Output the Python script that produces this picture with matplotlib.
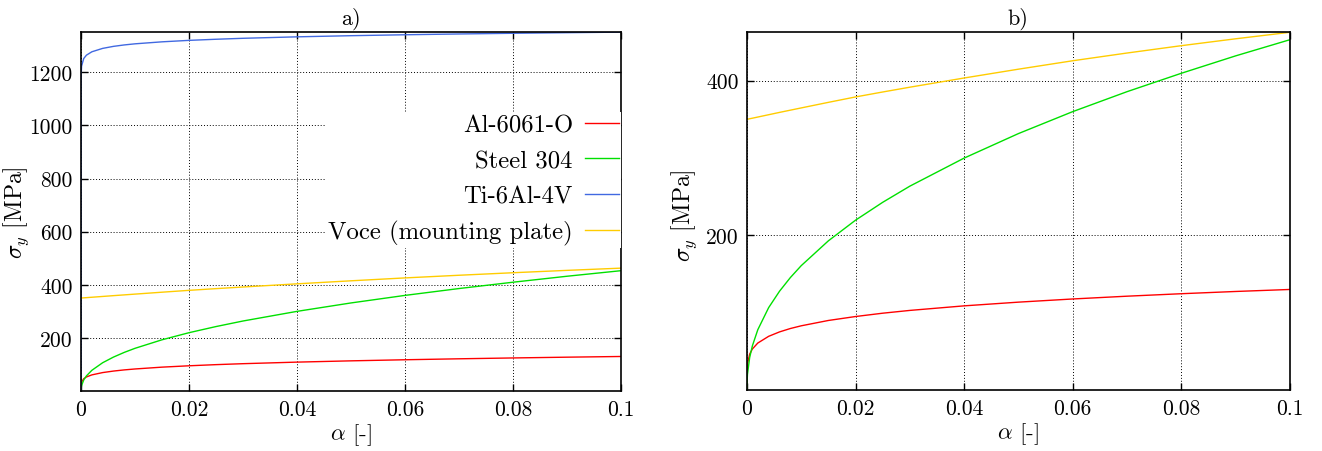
import numpy as np
import matplotlib
matplotlib.use("Agg")
import matplotlib.pyplot as plt

plt.rcParams['font.family'] = 'cmr10'
plt.rcParams['mathtext.fontset'] = 'cm'
plt.rcParams['axes.unicode_minus'] = False
plt.rcParams['axes.formatter.use_mathtext'] = True

# plastic strain alpha and yield stress (MPa)
alpha = [0, 1e-6, 1e-5, 1e-4, 0.0005, 0.001, 0.002, 0.004, 0.006, 0.008, 0.01,
         0.015, 0.02, 0.025, 0.03, 0.04, 0.05, 0.06, 0.07, 0.08, 0.09, 0.1]
al6061 = [0, 13.8, 21.6, 33.8, 46.3, 53.0, 60.7, 69.4, 75.1, 79.5, 83.0,
          89.9, 95.0, 99.3, 102.9, 108.8, 113.6, 117.7, 121.3, 124.5, 127.4, 130.0]
steel304 = [0, 2.5, 7.2, 20.2, 41.8, 57.0, 77.9, 106.5, 127.7, 145.4, 160.8,
            192.9, 219.6, 242.7, 263.6, 299.9, 331.6, 360.0, 385.8, 409.6, 432.1, 453.0]
ti6al4v = [0, 1144.6, 1183.0, 1223.0, 1251.7, 1264.3, 1277.0, 1289.8, 1297.4, 1302.8, 1307.0,
           1314.5, 1320.0, 1324.2, 1327.8, 1333.3, 1337.6, 1341.1, 1344.1, 1346.7, 1348.9, 1351.0]
voce = [350.0, 350.0, 350.0, 350.15, 350.8, 351.5, 353.0, 356.0, 359.0, 361.9, 364.8,
        372.0, 379.0, 385.4, 391.6, 403.5, 414.9, 425.8, 435.8, 445.3, 454.2, 462.6]

labels = ['Al-6061-O', 'Steel 304', 'Ti-6Al-4V', 'Voce (mounting plate)']
colors = ['#ff0000', '#00e000', '#4169e1', '#ffcc00']

xticks = [0, 0.02, 0.04, 0.06, 0.08, 0.1]
xticklabels = ['0', '0.02', '0.04', '0.06', '0.08', '0.1']
yticks_a = [200, 400, 600, 800, 1000, 1200]
yticks_b = [200, 400]

fig = plt.figure(figsize=(13.22, 4.52), dpi=100)
axA = fig.add_axes([0.0613, 0.1327, 0.4085, 0.794])
axB = fig.add_axes([0.565, 0.1350, 0.4107, 0.792])


def style(ax, yticks, ymax, title):
    ax.set_xlim(0, 0.1)
    ax.set_ylim(0, ymax)
    ax.set_xticks(xticks)
    ax.set_xticklabels(xticklabels, fontsize=15.5)
    ax.set_yticks(yticks)
    ax.set_yticklabels([str(v) for v in yticks], fontsize=15.5)
    ax.tick_params(direction='in', top=True, right=True, length=5, width=1.0, pad=6)
    ax.grid(True, linestyle=(0, (1, 2)), color='black', linewidth=0.7)
    ax.set_axisbelow(True)
    for s in ax.spines.values():
        s.set_linewidth(1.2)
    ax.set_xlabel(r'$\alpha$ [-]', fontsize=16.5, labelpad=2)
    ax.set_title(title, fontsize=16, pad=6)


series = [al6061, steel304, ti6al4v, voce]
for vals, lab, c in zip(series, labels, colors):
    axA.plot(alpha, vals, color=c, linewidth=1.0, label=lab)
style(axA, yticks_a, 1351, 'a)')
axA.set_ylabel(r'$\sigma_y$ [MPa]', fontsize=17)
axA.yaxis.set_label_coords(-0.092, 0.5)
leg = axA.legend(loc='upper right', bbox_to_anchor=(1.0, 0.777), markerfirst=False,
                 fontsize=17.8, handlelength=1.35, handletextpad=0.5,
                 labelspacing=0.52, borderaxespad=0, borderpad=0.1,
                 fancybox=False, framealpha=1, edgecolor='none')

for vals, c in zip([al6061, steel304, voce], [colors[0], colors[1], colors[3]]):
    axB.plot(alpha, vals, color=c, linewidth=1.0)
style(axB, yticks_b, 463, 'b)')
axB.set_ylabel(r'$\sigma_y$ [MPa]', fontsize=17)
axB.yaxis.set_label_coords(-0.088, 0.49)

fig.savefig('out.png', dpi=100)
